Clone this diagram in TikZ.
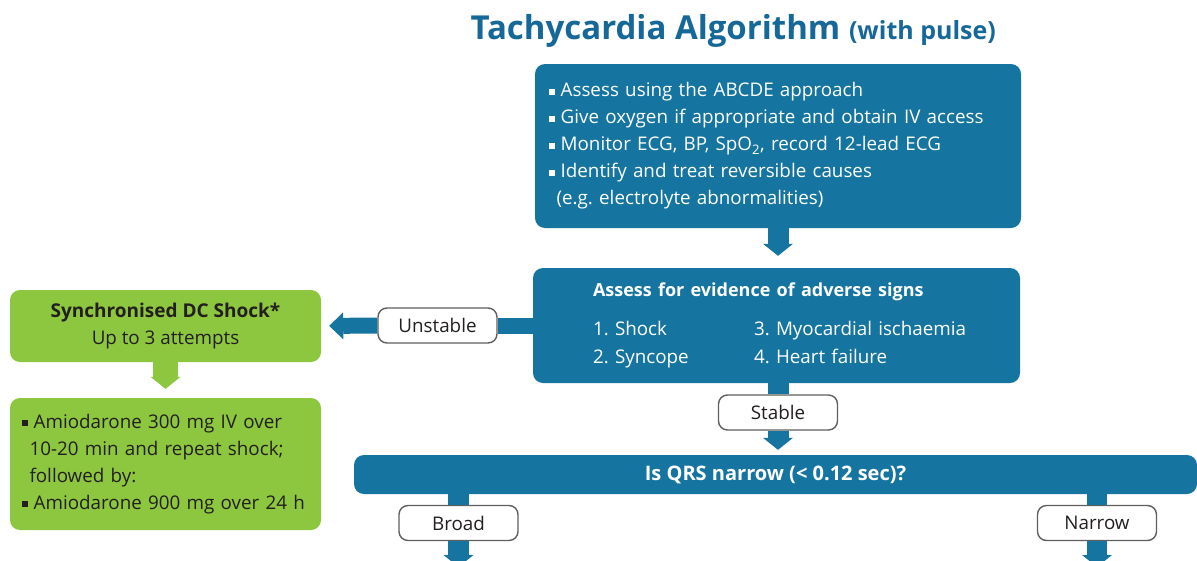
\documentclass[tikz,border=0pt]{standalone}
\usepackage{fontspec}
\setmainfont{Open Sans}
\usetikzlibrary{positioning,arrows.meta}
\usepackage{xcolor}
\definecolor{algblue}{RGB}{21,117,160}
\definecolor{titleblue}{RGB}{22,104,152}
\definecolor{alggreen}{RGB}{141,198,63}
\definecolor{algtext}{RGB}{35,31,32}
\definecolor{taggray}{RGB}{95,95,95}
\frenchspacing
\newcommand\sqbul{\rule[0.12em]{0.32em}{0.32em}\hspace{0.3em}}
\newcommand\bodyfont{\fontsize{18.8}{27}\selectfont}

\begin{document}
\begin{tikzpicture}[x=1pt,y=-1pt,font=\bodyfont,
  bluebox/.style={rectangle,rounded corners=10pt,fill=algblue,text=white,inner sep=0pt},
  greenbox/.style={rectangle,rounded corners=10pt,fill=alggreen,text=algtext,inner sep=0pt},
  tag/.style={rectangle,rounded corners=9pt,draw=taggray,line width=1.4pt,fill=white,
    text=algtext,minimum width=119pt,minimum height=35pt,inner sep=0pt},
  band/.style={draw=algblue,line width=21pt},
  flow/.style={band,-{Triangle[width=30pt,length=12pt,line width=0pt]}}]
\useasboundingbox (0,0) rectangle (1197,560);
\fill[white] (0,0) rectangle (1197,560);

% title
\node[anchor=base west,text=titleblue,font=\bfseries\fontsize{33}{40}\selectfont] (title) at (467,39)
  {Tachycardia Algorithm {\fontsize{25}{30}\selectfont(with pulse)}};

% main boxes
\node[bluebox,minimum width=486pt,minimum height=164pt,text width=458pt,align=left] (assess) at (778,146)
  {\sqbul Assess using the ABCDE approach\\
   \sqbul Give oxygen if appropriate and obtain IV access\\
   \sqbul Monitor ECG, BP, SpO\textsubscript{2}, record 12-lead ECG\\
   \sqbul Identify and treat reversible causes\\
   \hspace*{0.4em}(e.g. electrolyte abnormalities)};
\node[bluebox,minimum width=487pt,minimum height=115pt,text width=367pt,inner xsep=60pt,align=left,
  font=\fontsize{18.8}{28}\selectfont] (signs) at (776.5,325.5)
  {{\fontsize{18}{28}\selectfont\bfseries Assess for evidence of adverse signs}\\[11pt]
   \mbox{\makebox[161pt][l]{1. Shock}3. Myocardial ischaemia}\\
   \mbox{\makebox[161pt][l]{2. Syncope}4. Heart failure}};
\node[bluebox,minimum width=843pt,minimum height=39pt,font=\fontsize{20}{27}\selectfont\bfseries] (qrs) at (775.5,474.5)
  {Is QRS narrow (< 0.12 sec)?};

% unstable branch
\node[greenbox,minimum width=311pt,minimum height=72pt,align=center] (shock) at (165.5,326)
  {{\fontsize{19}{27}\selectfont\bfseries Synchronised DC Shock*}\\Up to 3 attempts};
\node[greenbox,minimum width=311pt,minimum height=132pt,text width=287pt,align=left] (amio) at (165.5,464)
  {\sqbul Amiodarone 300 mg IV over\\
   \hspace*{0.4em}10-20 min and repeat shock;\\
   \hspace*{0.4em}followed by:\\
   \sqbul Amiodarone 900 mg over 24 h};

% decision tags
\node[tag] (unstable) at (437.5,325.5) {Unstable};
\node[tag] (stable) at (778,412.5) {Stable};
\node[tag] (broad) at (458.5,523) {Broad};
\node[tag] (narrow) at (1097,523) {Narrow};
\coordinate (broadend) at (458.5,567);
\coordinate (narrowend) at (1097,567);

% connectors
\draw[flow,shorten >=12pt] (assess.south) -- (assess.south |- signs.north);
\draw[band,line width=16pt] (signs.west) -- (unstable.east);
\draw[flow,line width=16pt,-{Triangle[width=27pt,length=14pt,line width=0pt]},shorten >=8pt] (unstable.west) -- (shock.east);
\draw[flow,draw=alggreen,line width=25pt,shorten >=9pt] (shock.south) -- (amio.north);
\draw[band] (stable.north |- signs.south) -- (stable.north);
\draw[flow,shorten >=5pt] (stable.south) -- (stable.south |- qrs.north);
\draw[band] (broad.north |- qrs.south) -- (broad.north);
\draw[flow] (broad.south) -- (broadend);
\draw[band,line width=20pt] (narrow.north |- qrs.south) -- (narrow.north);
\draw[flow,line width=20pt] (narrow.south) -- (narrowend);
\end{tikzpicture}
\end{document}
